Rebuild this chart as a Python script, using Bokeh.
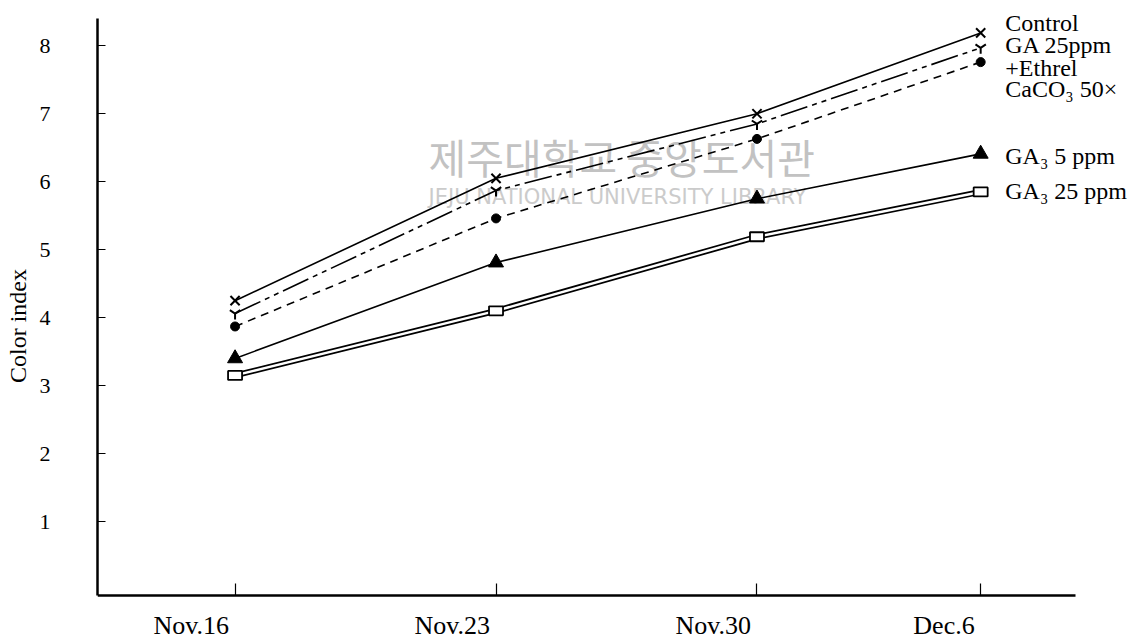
from bokeh.plotting import figure
from bokeh.models import FixedTicker, Label
from bokeh.embed import file_html
from bokeh.resources import INLINE
from bokeh.core.properties import value

# ---- data ----
dates = ["Nov.16", "Nov.23", "Nov.30", "Dec.6"]
days = [16, 23, 30, 36]
control = [4.25, 6.05, 7.00, 8.19]
ga_ethrel = [4.06, 5.87, 6.85, 7.97]
caco3 = [3.87, 5.46, 6.63, 7.76]
ga3_5 = [3.40, 4.81, 5.75, 6.41]
ga3_25 = [3.15, 4.10, 5.19, 5.85]
y_ticks = [1, 2, 3, 4, 5, 6, 7, 8]
series_labels = ["Control", "GA 25ppm", "+Ethrel", "CaCO\u2083 50\u00d7", "GA\u2083 5 ppm", "GA\u2083 25 ppm"]
watermark_kr = "제주대학교 중앙도서관"
watermark_en = "JEJU NATIONAL UNIVERSITY LIBRARY"

SERIF = "Liberation Serif"
X0, X1 = 12.31, 38.54      # extent of the drawn x axis
Y0, Y1 = -0.09, 8.40       # extent of the drawn y axis

p = figure(width=1146, height=639, x_range=(X0, 40.18), y_range=(-0.736, 8.49),
           output_backend="svg", toolbar_location=None,
           min_border_left=97, min_border_right=10, min_border_top=12, min_border_bottom=0)
p.outline_line_color = None
p.xgrid.visible = False
p.ygrid.visible = False

# x axis: line + unlabeled tick marks (labels drawn as text below, right-aligned)
p.xaxis.fixed_location = Y0
p.xaxis.bounds = (X0, X1)
p.xaxis.ticker = FixedTicker(ticks=[], minor_ticks=days)
p.xaxis.major_tick_line_color = None
p.xaxis.major_label_standoff = 0
p.xaxis.minor_tick_in = 12
p.xaxis.minor_tick_out = 0
p.xaxis.minor_tick_line_color = "black"
p.xaxis.minor_tick_line_width = 1.2
p.xaxis.axis_line_width = 2.5

# y axis
p.yaxis.bounds = (Y0, Y1)
p.yaxis.ticker = FixedTicker(ticks=y_ticks)
p.yaxis.major_tick_in = 8
p.yaxis.major_tick_out = 0
p.yaxis.minor_tick_line_color = None
p.yaxis.axis_line_width = 2.5
p.yaxis.major_tick_line_width = 1.2
p.yaxis.major_label_text_font = SERIF
p.yaxis.major_label_text_font_size = "22px"
p.yaxis.major_label_text_color = "black"
p.yaxis.major_label_standoff = 47
p.yaxis.axis_label = "Color index"
p.yaxis.axis_label_text_font = SERIF
p.yaxis.axis_label_text_font_style = "normal"
p.yaxis.axis_label_text_font_size = "24px"
p.yaxis.axis_label_text_color = "black"
p.yaxis.axis_label_standoff = 6

# watermark
p.add_layout(Label(x=21.19, y=6.38, text=watermark_kr, text_font="Noto Sans CJK KR",
                   text_font_size="41px", text_color="#c2c2c2", text_baseline="middle",
                   level="underlay"))
p.add_layout(Label(x=21.19, y=5.78, text=watermark_en, text_font="DejaVu Sans",
                   text_font_size="21px", text_color="#cbcbcb", text_baseline="middle",
                   level="underlay"))

# x tick labels (right edge near each tick, as in the reference)
p.text(x=days, y=[-0.53] * len(days), text=dates, text_font=value(SERIF),
       text_font_size="26px", text_color="black", text_align="right",
       text_baseline="middle", x_offset=-6)

# series
p.line(days, control, line_color="black", line_width=1.6)
p.scatter(days, control, marker="x", size=13, line_color="black", line_width=2)

p.line(days, ga_ethrel, line_color="black", line_width=1.6, line_dash="28 5 5 5 5 5")
p.scatter(days, ga_ethrel, marker="y", size=12, line_color="black", line_width=2)

p.line(days, caco3, line_color="black", line_width=1.6, line_dash="8 6")
p.scatter(days, caco3, marker="circle", size=9, fill_color="black", line_color="black")

p.line(days, ga3_5, line_color="black", line_width=1.6)
p.scatter(days, ga3_5, marker="triangle", size=15, fill_color="black", line_color="black")

p.line(days, ga3_25, line_color="black", line_width=6)
p.line(days, ga3_25, line_color="white", line_width=2.5)
p.rect(days, ga3_25, width=14, height=9, width_units="screen", height_units="screen",
       fill_color="white", line_color="black", line_width=1.8)

# series labels at right
label_y = [8.34, 8.01, 7.68, 7.37, 6.38, 5.87]
for t, yy in zip(series_labels, label_y):
    p.add_layout(Label(x=36.66, y=yy, text=t, text_font=SERIF, text_font_size="24px",
                       text_color="black", text_baseline="middle"))

open("out.html", "w").write(file_html(p, INLINE))
